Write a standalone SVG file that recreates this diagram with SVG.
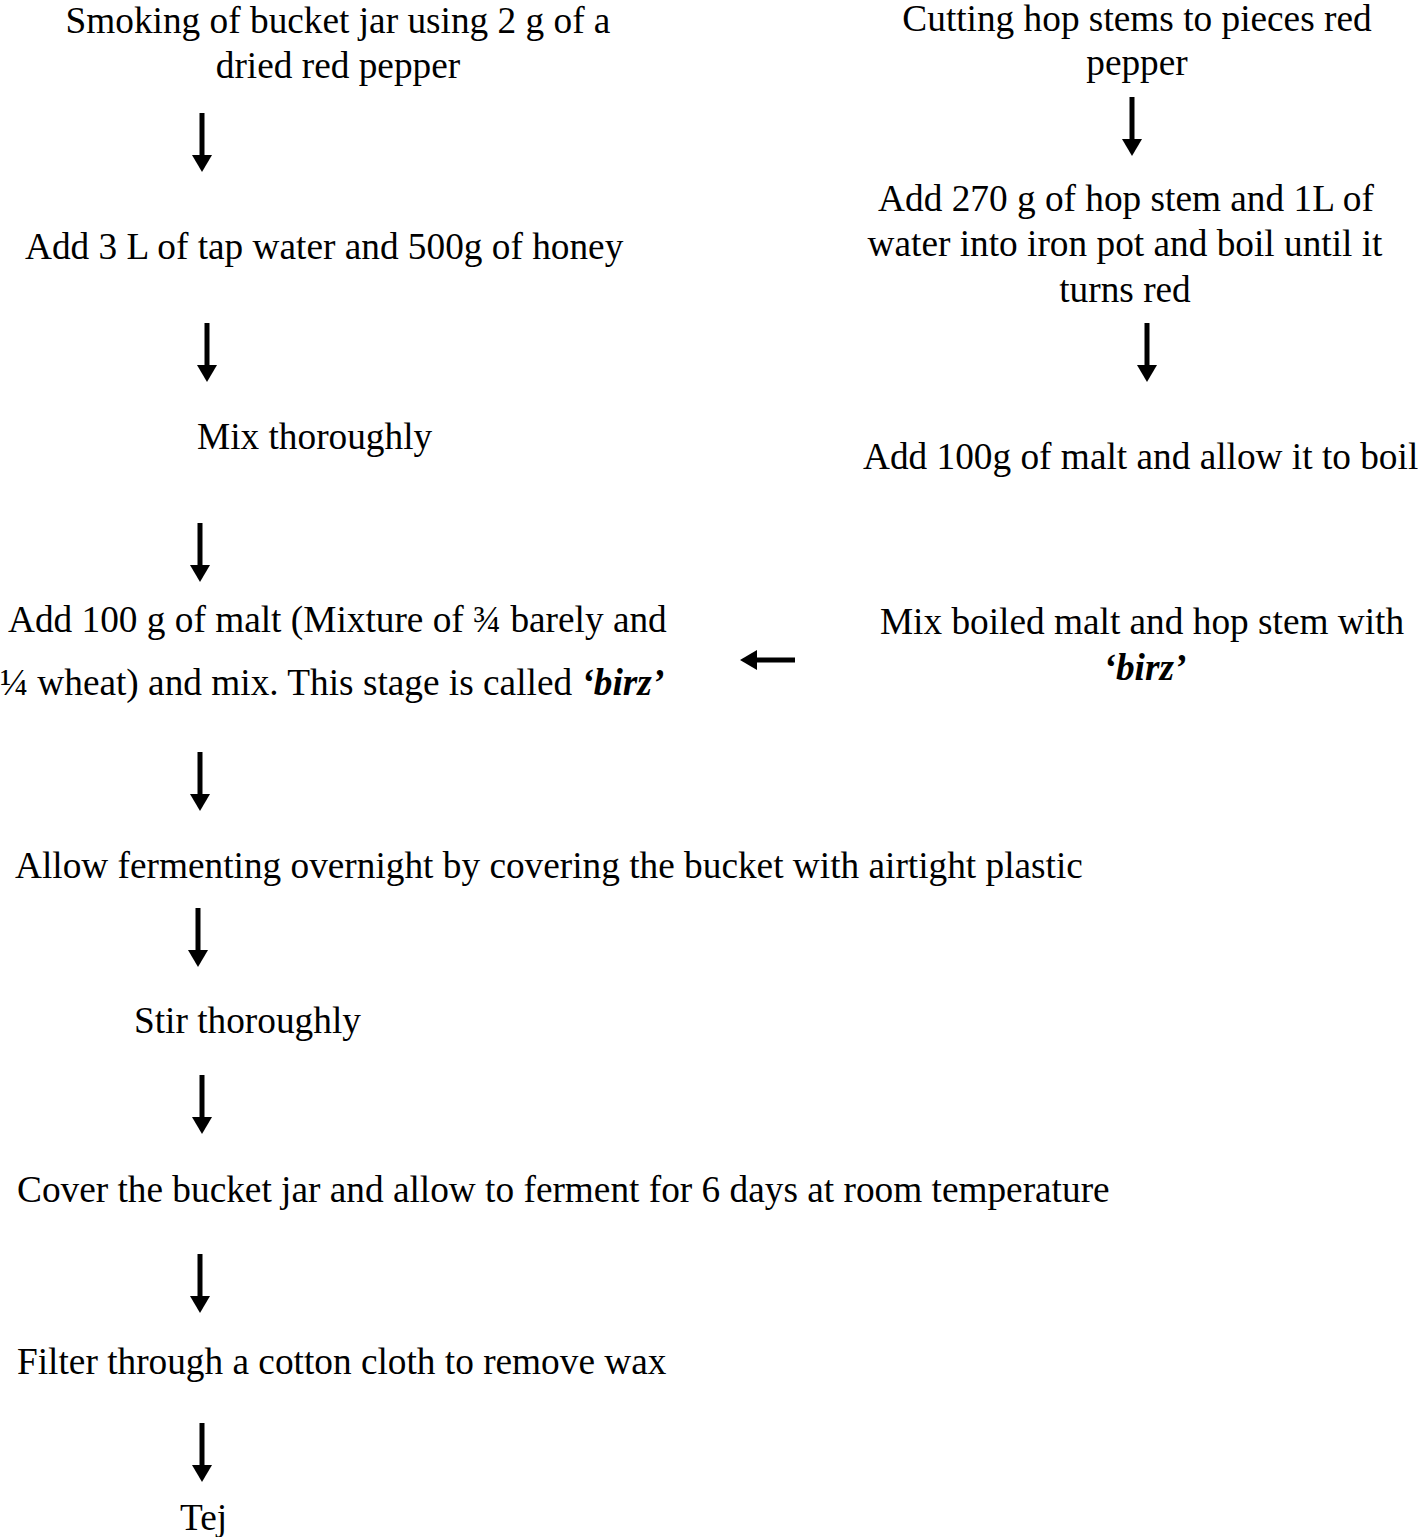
<svg xmlns="http://www.w3.org/2000/svg" width="1418" height="1537" viewBox="0 0 1418 1537">
<style>
text{font-family:"Liberation Serif","Times New Roman",serif;font-size:37.3px;fill:#000}
.m{text-anchor:middle}
.bi{font-weight:bold;font-style:italic}
.shaft{stroke:#000;stroke-width:5;fill:none}
.head{fill:#000}
</style>
<defs>
<g id="down"><line class="shaft" x1="0" y1="0" x2="0" y2="44"/><polygon class="head" points="-10,42 10,42 0,59"/></g>
</defs>
<rect width="1418" height="1537" fill="#fff"/>
<g id="n1"><text class="m" x="338" y="33">Smoking of bucket jar using 2 g of a</text><text class="m" x="338" y="78">dried red pepper</text></g>
<g id="n2"><text x="25" y="259">Add 3 L of tap water and 500g of honey</text></g>
<g id="n3"><text x="197" y="449">Mix thoroughly</text></g>
<g id="n4"><text x="8" y="632">Add 100 g of malt (Mixture of ¾ barely and</text><text x="0" y="695">¼ wheat) and mix. This stage is called <tspan class="bi">‘birz’</tspan></text></g>
<g id="n5"><text x="15" y="878">Allow fermenting overnight by covering the bucket with airtight plastic</text></g>
<g id="n6"><text x="134" y="1033">Stir thoroughly</text></g>
<g id="n7"><text x="17" y="1202">Cover the bucket jar and allow to ferment for 6 days at room temperature</text></g>
<g id="n8"><text x="17" y="1374">Filter through a cotton cloth to remove wax</text></g>
<g id="n9"><text x="180" y="1530">Tej</text></g>
<g id="r1"><text class="m" x="1137" y="31">Cutting hop stems to pieces red</text><text class="m" x="1137" y="75">pepper</text></g>
<g id="r2"><text class="m" x="1126" y="211">Add 270 g of hop stem and 1L of</text><text class="m" x="1125" y="256">water into iron pot and boil until it</text><text class="m" x="1125" y="302">turns red</text></g>
<g id="r3"><text x="863" y="469">Add 100g of malt and allow it to boil</text></g>
<g id="r4"><text class="m" x="1142" y="634">Mix boiled malt and hop stem with</text><text class="m bi" x="1145" y="680">‘birz’</text></g>
<g id="connectors">
<use href="#down" x="202" y="113"/>
<use href="#down" x="207" y="323"/>
<use href="#down" x="200" y="523"/>
<use href="#down" x="200" y="752"/>
<use href="#down" x="198" y="908"/>
<use href="#down" x="202" y="1075"/>
<use href="#down" x="200" y="1254"/>
<use href="#down" x="202" y="1423"/>
<use href="#down" x="1132" y="97"/>
<use href="#down" x="1147" y="323"/>
<line class="shaft" x1="795" y1="660" x2="755" y2="660"/>
<polygon class="head" points="757,650 757,670 740,660"/>
</g>
</svg>
